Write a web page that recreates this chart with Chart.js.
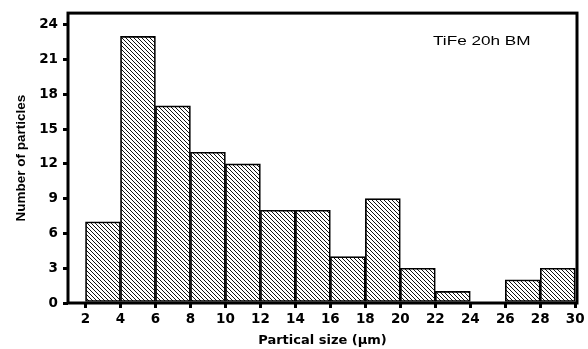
<!DOCTYPE html>
<html>
<head>
<meta charset="utf-8">
<script src="https://cdn.jsdelivr.net/npm/chart.js@4"></script>
<style>
  html, body { margin: 0; padding: 0; background: #fff; }
  #wrap { width: 588px; height: 349px; }
</style>
</head>
<body>
<div id="wrap"><canvas id="hist" width="588" height="349"></canvas></div>
<script>
// particle size bins (lower edge, µm) and counts
const binStarts = [2, 4, 6, 8, 10, 12, 14, 16, 18, 20, 22, 24, 26, 28];
const counts = [7, 23, 17, 13, 12, 8, 8, 4, 9, 3, 1, 0, 2, 3];
const binWidth = 2;
const xTicks = [2, 4, 6, 8, 10, 12, 14, 16, 18, 20, 22, 24, 26, 28, 30];
const yTicks = [0, 3, 6, 9, 12, 15, 18, 21, 24];
const sampleLabel = "TiFe 20h BM";

// crisp 1px "\\\" hatch, period 4px
const makeHatch = () => {
  const c = document.createElement("canvas");
  c.width = 4;
  c.height = 4;
  const g = c.getContext("2d");
  g.fillStyle = "#fff";
  g.fillRect(0, 0, 4, 4);
  g.fillStyle = "#111";
  for (let i = 0; i < 4; i++) g.fillRect(i, i, 1, 1);
  return document.getElementById("hist").getContext("2d").createPattern(c, "repeat");
};

const frame = {
  id: "frame",
  afterDraw(chart) {
    const { ctx, chartArea: a } = chart;
    ctx.save();
    ctx.strokeStyle = "#000";
    ctx.lineWidth = 3;
    ctx.strokeRect(a.left, a.top, a.right - a.left, a.bottom - a.top);
    // sample name, slightly stretched like the original figure
    ctx.fillStyle = "#000";
    ctx.font = "13px 'Liberation Sans', Arial, sans-serif";
    ctx.textBaseline = "middle";
    ctx.translate(433, 41);
    ctx.scale(1.32, 1);
    ctx.fillText(sampleLabel, 0, 0);
    ctx.restore();
  },
};

const tickFont = { family: "'DejaVu Sans', sans-serif", weight: "bold", size: 13.5 };

new Chart(document.getElementById("hist"), {
  type: "bar",
  data: {
    datasets: [
      {
        data: binStarts.map((s, i) => ({ x: s + binWidth / 2, y: counts[i] })),
        backgroundColor: makeHatch(),
        borderColor: "#000",
        borderWidth: 1.7,
        borderSkipped: false,
        barPercentage: 1,
        categoryPercentage: 1,
      },
    ],
  },
  options: {
    responsive: false,
    animation: false,
    layout: { padding: { top: 12, right: 11, left: 0, bottom: 0 } },
    plugins: { legend: { display: false }, tooltip: { enabled: false } },
    scales: {
      x: {
        type: "linear",
        offset: false,
        min: 1,
        max: 30.1,
        afterBuildTicks: (s) => { s.ticks = xTicks.map((v) => ({ value: v })); },
        afterFit: (s) => { s.height = 46; },
        grid: { offset: false, drawOnChartArea: false, color: "#000", tickLength: 5, lineWidth: 3 },
        border: { display: false },
        ticks: { color: "#000", font: tickFont, padding: 3, maxRotation: 0, autoSkip: false },
        title: {
          display: true,
          text: "Partical size (μm)",
          color: "#000",
          font: { family: "'DejaVu Sans', sans-serif", weight: "bold", size: 13 },
          padding: { top: 2, bottom: 1 },
        },
      },
      y: {
        min: 0,
        max: 25,
        afterBuildTicks: (s) => { s.ticks = yTicks.map((v) => ({ value: v })); },
        afterFit: (s) => { s.width = 68; },
        grid: { drawOnChartArea: false, color: "#000", tickLength: 5, lineWidth: 3 },
        border: { display: false },
        ticks: { color: "#000", font: tickFont, padding: 5 },
        title: {
          display: true,
          text: "Number of particles",
          color: "#000",
          font: { family: "'Liberation Sans', Arial, sans-serif", weight: "bold", size: 13.5 },
          padding: { top: 13, bottom: 0 },
        },
      },
    },
  },
  plugins: [frame],
});
</script>
</body>
</html>
